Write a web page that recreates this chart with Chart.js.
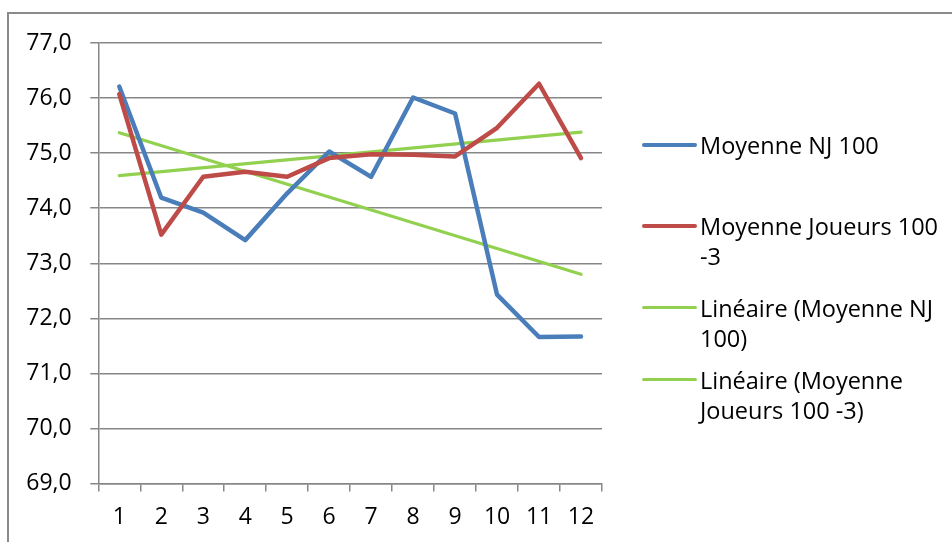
<!DOCTYPE html>
<html>
<head>
<meta charset="utf-8">
<script src="https://cdn.jsdelivr.net/npm/chart.js@4.4.1/dist/chart.umd.min.js"></script>
<style>
    html, body { margin: 0; padding: 0; background: #fff; }
    #wrap { position: relative; width: 952px; height: 542px; overflow: hidden; }
    #frame {
        position: absolute; left: 7px; top: 12px; width: 1000px; height: 600px;
        border-left: 2px solid #8a8a8a; border-top: 2px solid #8a8a8a;
    }
    #chart { position: absolute; left: 0; top: 0; }
    #legend { position: absolute; left: 0; top: 0; font-family: "Open Sans", sans-serif; font-size: 23.5px; color: #000; }
    .item { position: absolute; left: 642px; line-height: 30px; }
    .item .swatch { position: absolute; left: 0; top: 13px; width: 55px; border-radius: 2px; }
    .item .txt { position: absolute; left: 58px; top: 0; white-space: nowrap; }
</style>
</head>
<body>
<div id="wrap">
    <div id="frame"></div>
    <canvas id="chart" width="952" height="542"></canvas>
    <div id="legend"></div>
</div>
<script>
// months 1..12
const categories = ['1', '2', '3', '4', '5', '6', '7', '8', '9', '10', '11', '12'];

const moyenneNJ = [76.21, 74.19, 73.92, 73.42, 74.27, 75.03, 74.57, 76.01, 75.72, 72.43, 71.66, 71.67];
const moyenneJoueurs = [76.07, 73.52, 74.57, 74.66, 74.57, 74.91, 74.98, 74.97, 74.94, 75.46, 76.26, 74.91];

// trend lines: only the two end points, the gap is spanned
const tendanceNJ = [75.37, null, null, null, null, null, null, null, null, null, null, 72.80];
const tendanceJoueurs = [74.59, null, null, null, null, null, null, null, null, null, null, 75.38];

const legendLines = [
    ['Moyenne NJ 100'],
    ['Moyenne Joueurs 100', '-3'],
    ['Linéaire (Moyenne NJ', '100)'],
    ['Linéaire (Moyenne', 'Joueurs 100 -3)']
];

const yTicks = { min: 69, max: 77, step: 1 };

const BLUE = '#4a7ebb';
const RED = '#be4b48';
const GREEN = '#92d050';
const GRID = '#878787';

const datasets = [
    { data: moyenneNJ, borderColor: BLUE, borderWidth: 4.5 },
    { data: moyenneJoueurs, borderColor: RED, borderWidth: 4.5 },
    { data: tendanceNJ, borderColor: GREEN, borderWidth: 3.2, spanGaps: true },
    { data: tendanceJoueurs, borderColor: GREEN, borderWidth: 3.2, spanGaps: true }
].map((d, i) => ({
    label: legendLines[i].join(' '),
    fill: false,
    pointRadius: 0,
    tension: 0,
    borderJoinStyle: 'round',
    borderCapStyle: 'round',
    ...d
}));

// draw the green trend lines below the data lines
datasets[2].order = 3;
datasets[3].order = 4;
datasets[0].order = 2;
datasets[1].order = 1;

const chart = new Chart(document.getElementById('chart').getContext('2d'), {
    type: 'line',
    data: { labels: categories, datasets: datasets },
    options: {
        responsive: false,
        animation: false,
        devicePixelRatio: 1,
        layout: { padding: { left: 0, top: 43, right: 350, bottom: 0 } },
        plugins: { legend: { display: false }, tooltip: { enabled: false } },
        scales: {
            x: {
                offset: true,
                grid: { display: true, drawOnChartArea: false, offset: true, tickLength: 8, color: GRID, lineWidth: 1.5 },
                border: { color: GRID, width: 1.5 },
                ticks: { color: '#000', font: { family: 'Open Sans', size: 23 }, padding: 12, maxRotation: 0 },
                afterFit: s => { s.height = 58.5; }
            },
            y: {
                min: yTicks.min,
                max: yTicks.max,
                grid: { color: GRID, lineWidth: 1.5, tickLength: 8 },
                border: { color: GRID, width: 1.5 },
                ticks: {
                    stepSize: yTicks.step,
                    color: '#000',
                    font: { family: 'Open Sans', size: 23 },
                    padding: 18.6,
                    callback: v => v.toFixed(1).replace('.', ',')
                },
                afterFit: s => { s.width = 98.3; }
            }
        }
    }
});

// legend on the right, built from the datasets
const legendTops = [130, 211, 293, 365];
const legend = document.getElementById('legend');
chart.data.datasets.forEach((ds, i) => {
    const item = document.createElement('div');
    item.className = 'item';
    item.style.top = legendTops[i] + 'px';
    const sw = document.createElement('div');
    sw.className = 'swatch';
    sw.style.borderTop = (i < 2 ? 4 : 3) + 'px solid ' + ds.borderColor;
    const txt = document.createElement('div');
    txt.className = 'txt';
    txt.innerHTML = legendLines[i].join('<br>');
    item.appendChild(sw);
    item.appendChild(txt);
    legend.appendChild(item);
});
</script>
</body>
</html>
